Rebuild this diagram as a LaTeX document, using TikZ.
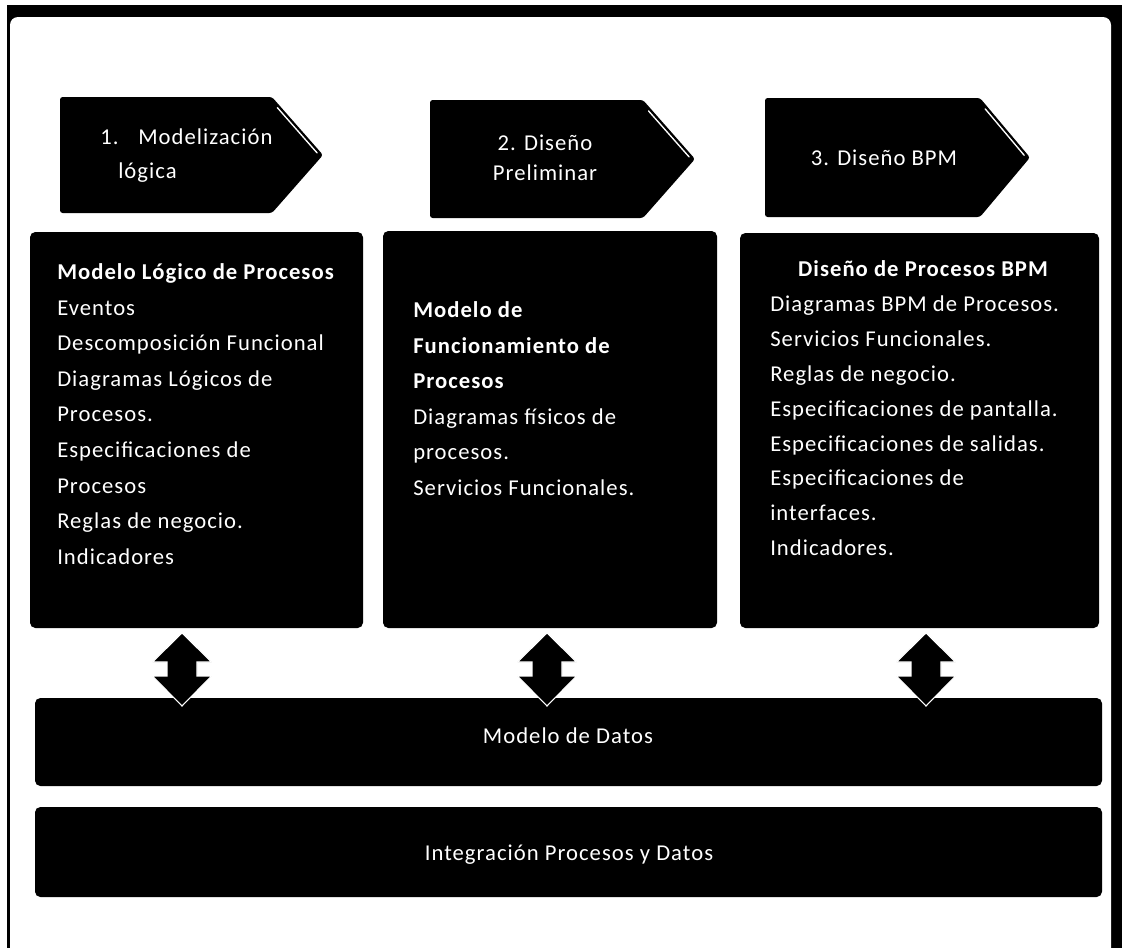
\documentclass[tikz,border=0pt]{standalone}
\usepackage{fontspec}
\setmainfont{Carlito}[LetterSpace=4.5]
\begin{document}
\begin{tikzpicture}[x=0.75pt,y=-0.75pt]
\tikzset{
  darkshape/.style={fill=black, rounded corners=4},
  chevron/.style={fill=black, rounded corners=2},
  shine/.style={draw=white, line width=1pt, line cap=round},
  bodytext/.style={text=white, inner sep=0pt, anchor=base west,
    font=\fontsize{17}{20}\selectfont},
  headtext/.style={bodytext, font=\fontsize{17}{20}\selectfont\bfseries},
  stagetext/.style={text=white, inner sep=0pt, anchor=base,
    font=\fontsize{17}{20}\selectfont},
  dblarrow/.style={fill=black, draw=white, line width=0.8pt, line join=miter},
}
\useasboundingbox (0,0) rectangle (1122,947);

% outer frame
\fill[black] (7,5) rectangle (1122,970);
\fill[white, rounded corners=6] (10,17) -- (1111,17) -- (1111,970) -- (10,970) -- cycle;

% stage chevrons
\fill[chevron] (60,97) -- (272,97) -- (323,155) -- (272,213) -- (60,213) -- cycle;
\fill[chevron] (430,100) -- (643,100) -- (695,159) -- (643,218) -- (430,218) -- cycle;
\fill[chevron] (765,98) -- (980,98) -- (1030,157.5) -- (980,217) -- (765,217) -- cycle;
\draw[shine] (277.4,107.7) -- (317.1,152.9);
\draw[shine] (648.5,110.9) -- (689.1,156.9);
\draw[shine] (985.2,108.9) -- (1024.2,155.3);

\node[bodytext] (s1a) at (100,144) {1.};
\node[bodytext] (s1b) at (138,144) {Modelización};
\node[bodytext] (s1c) at (118,178) {lógica};
\node[stagetext] (s2a) at (545,150) {2. Diseño};
\node[stagetext] (s2b) at (545,180) {Preliminar};
\node[stagetext] (s3a) at (884,165) {3. Diseño BPM};

% content panels
\fill[darkshape] (30,232) rectangle (363,628);
\fill[darkshape] (383,231) rectangle (717,628);
\fill[darkshape] (740,233) rectangle (1099,628);

% panel 1
\node[headtext] (p1-0) at (57,279.5) {Modelo Lógico de Procesos};
\foreach \t [count=\i] in {Eventos, Descomposición Funcional,
    Diagramas Lógicos de, Procesos., Especificaciones de, Procesos,
    Reglas de negocio., Indicadores}
  \node[bodytext] (p1-\i) at (57,{279.5+35.6*\i}) {\t};

% panel 2
\node[headtext] (p2-0) at (413,317.5) {Modelo de};
\node[headtext] (p2-1) at (413,353.1) {Funcionamiento de};
\node[headtext] (p2-2) at (413,388.7) {Procesos};
\foreach \t [count=\i from 3] in {Diagramas físicos de, procesos.,
    Servicios Funcionales.}
  \node[bodytext] (p2-\i) at (413,{317.5+35.6*\i}) {\t};

% panel 3
\node[headtext, anchor=base] (p3-0) at (923,276.5) {Diseño de Procesos BPM};
\foreach \t [count=\i] in {Diagramas BPM de Procesos., Servicios Funcionales.,
    Reglas de negocio., Especificaciones de pantalla.,
    Especificaciones de salidas., Especificaciones de, interfaces.,
    Indicadores.}
  \node[bodytext] (p3-\i) at (770,{276.5+34.9*\i}) {\t};

% data and integration bars
\fill[darkshape] (35,698) rectangle (1102,786);
\node[stagetext] (datos) at (568,743) {Modelo de Datos};
\fill[darkshape] (35,807) rectangle (1102,897);
\node[stagetext] (integ) at (569,860) {Integración Procesos y Datos};

% two-way arrows between panels and the data model
\foreach \c in {182,547,926}
  \path[dblarrow] (\c,633) -- (\c+29.5,662) -- (\c+15,662) -- (\c+15,676)
    -- (\c+29.5,676) -- (\c,706) -- (\c-29.5,676) -- (\c-15,676)
    -- (\c-15,662) -- (\c-29.5,662) -- cycle;
\end{tikzpicture}
\end{document}
